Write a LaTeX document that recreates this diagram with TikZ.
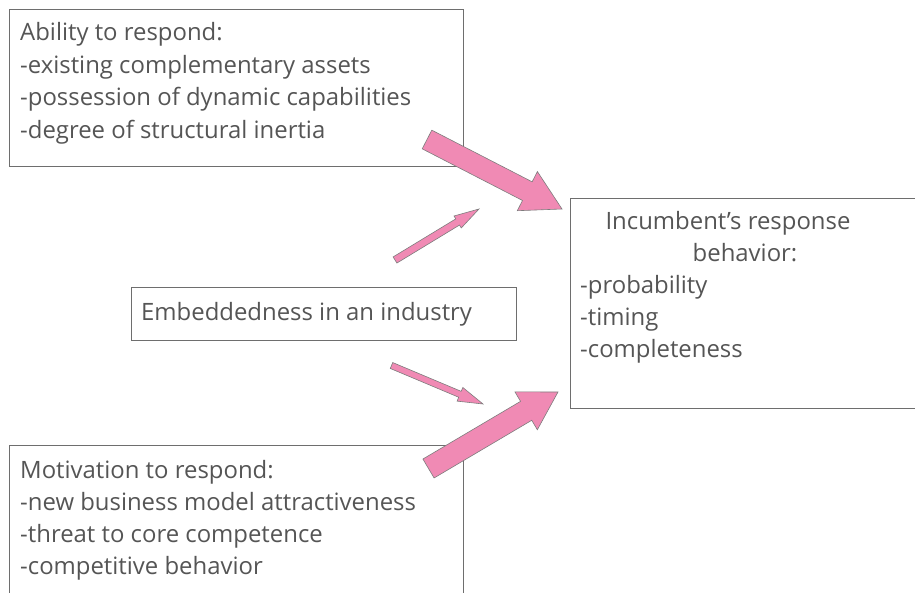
\documentclass[tikz,border=0pt]{standalone}
\usepackage{fontspec}
\setmainfont{Open Sans}
\usetikzlibrary{calc}
\definecolor{ink}{RGB}{85,85,85}
\definecolor{frame}{RGB}{110,110,110}
\definecolor{arrowpink}{RGB}{240,138,180}
\definecolor{arrowedge}{RGB}{125,125,125}

% Block arrow from tail #1 to tip #2: half shaft width #3, half head width #4,
% head length #5; #6 names the helper coordinate at the base of the head.
\newcommand\blockarrow[6]{%
  \coordinate (#6) at ($(#2)!#5!(#1)$);
  \filldraw[fat] ($(#1)!#3!90:(#2)$) -- ($(#6)!#3!90:(#2)$) -- ($(#6)!#4!90:(#2)$)
    -- (#2) -- ($(#6)!#4!-90:(#2)$) -- ($(#6)!#3!-90:(#2)$) -- ($(#1)!#3!-90:(#2)$) -- cycle;
}

\begin{document}
\begin{tikzpicture}[x=1pt,y=-1pt,
  panel/.style={draw=frame, line width=0.8pt, anchor=north west, inner sep=0pt, outer sep=0pt},
  txt/.style={text=ink, font=\fontsize{23.9}{28}\selectfont, inner sep=0pt, anchor=base west},
  fat/.style={fill=arrowpink, draw=arrowedge, line width=0.6pt, line join=miter}]
  \useasboundingbox (0,0) rectangle (915,593);
  \clip (0,0) rectangle (915,593);

  % boxes
  \node[panel, minimum width=454pt, minimum height=157pt] (ability) at (9,9) {};
  \node[panel, minimum width=360pt, minimum height=210pt] (response) at (570,198) {};
  \node[panel, minimum width=385pt, minimum height=53pt] (embed) at (131,287) {};
  \node[panel, minimum width=454pt, minimum height=170pt] (motive) at (9,445) {};

  % ability box text
  \node[txt] (ab1) at (20,41) {Ability to respond:};
  \node[txt] (ab2) at (20,73.5) {-existing complementary assets};
  \node[txt] (ab3) at (20,106) {-possession of dynamic capabilities};
  \node[txt] (ab4) at (20,138.5) {-degree of structural inertia};

  % response box text
  \node[txt, anchor=base] (re1) at (728,229.5) {Incumbent’s response};
  \node[txt, anchor=base] (re2) at (745,261.5) {behavior:};
  \node[txt] (re3) at (580,293.5) {-probability};
  \node[txt] (re4) at (580,325.5) {-timing};
  \node[txt] (re5) at (580,357.5) {-completeness};

  % embeddedness text
  \node[txt] (em1) at (141,320.5) {Embeddedness in an industry};

  % motivation box text
  \node[txt] (mo1) at (20,478.5) {Motivation to respond:};
  \node[txt] (mo2) at (20,510.5) {-new business model attractiveness};
  \node[txt] (mo3) at (20,542.5) {-threat to core competence};
  \node[txt] (mo4) at (20,574.5) {-competitive behavior};

  % arrow end points
  \coordinate (aTail) at (427,139.5);   \coordinate (aTip) at (562,209);
  \coordinate (eTailA) at (395,260);    \coordinate (eTipA) at (479,209);
  \coordinate (eTailB) at (391.5,365.5);\coordinate (eTipB) at (483,404);
  \coordinate (mTail) at (428.5,468.5); \coordinate (mTip) at (558,392);

  % arrows
  \blockarrow{aTail}{aTip}{10.5pt}{22pt}{39pt}{aBase}
  \blockarrow{eTailA}{eTipA}{3.6pt}{7pt}{25pt}{eBaseA}
  \blockarrow{eTailB}{eTipB}{3.2pt}{7.4pt}{25pt}{eBaseB}
  \blockarrow{mTail}{mTip}{11pt}{22pt}{37pt}{mBase}
\end{tikzpicture}
\end{document}
